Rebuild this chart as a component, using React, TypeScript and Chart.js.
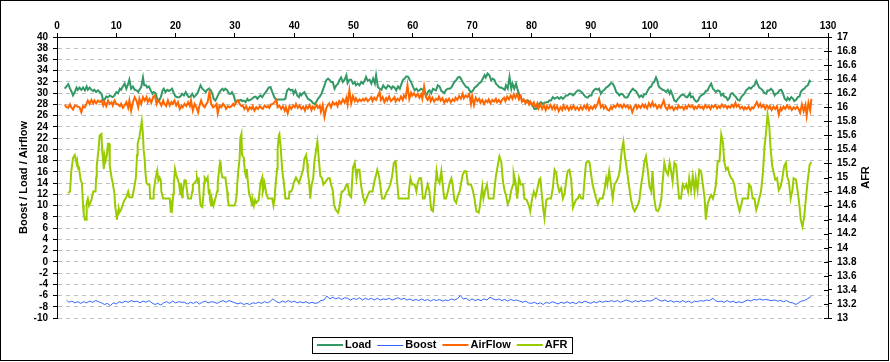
import React, { useEffect, useRef } from 'react';
import { Chart, registerables } from 'chart.js';

Chart.register(...registerables);

const seriesNames = ['Load', 'Boost', 'AirFlow', 'AFR'];
const seriesColors = ['#339966', '#3366FF', '#FF6600', '#99CC00'];
const leftTitle = 'Boost / Load / Airflow';
const rightTitle = 'AFR';

const xTickValues = [0, 10, 20, 30, 40, 50, 60, 70, 80, 90, 100, 110, 120, 130];
const leftTickValues = [-10, -8, -6, -4, -2, 0, 2, 4, 6, 8, 10, 12, 14, 16, 18, 20, 22, 24, 26, 28, 30, 32, 34, 36, 38, 40];
const afrTickValues = [13, 13.2, 13.4, 13.6, 13.8, 14, 14.2, 14.4, 14.6, 14.8, 15, 15.2, 15.4, 15.6, 15.8, 16, 16.2, 16.4, 16.6, 16.8, 17];

const loadTime = [1.3,1.6,1.9,2.2,2.4,2.7,3.0,3.3,3.5,3.8,4.1,4.4,4.7,5.0,5.2,5.5,5.8,6.1,6.3,6.6,6.9,7.2,7.5,7.8,8.0,8.3,8.6,8.9,9.2,9.4,9.7,10.0,10.3,10.6,10.8,11.1,11.4,11.7,12.0,12.2,12.5,12.8,13.1,13.4,13.7,13.9,14.2,14.5,14.7,15.0,15.2,15.5,15.8,16.1,16.3,16.6,16.9,17.2,17.5,17.8,18.0,18.3,18.6,18.9,19.2,19.4,19.7,20.0,20.3,20.6,20.8,21.1,21.4,21.7,22.0,22.2,22.5,22.8,23.1,23.4,23.7,23.9,24.2,24.5,24.8,25.1,25.3,25.6,25.9,26.2,26.4,26.7,27.0,27.3,27.6,27.9,28.1,28.4,28.7,29.0,29.3,29.5,29.8,30.1,30.4,30.7,31.0,31.2,31.5,31.8,32.1,32.3,32.6,32.9,33.2,33.5,33.8,34.0,34.3,34.6,34.9,35.2,35.4,35.7,36.0,36.3,36.6,36.8,37.1,37.4,37.7,38.0,38.3,38.5,38.8,39.1,39.4,39.7,39.9,40.2,40.5,40.8,
41.0,41.2,41.5,41.7,42.0,42.3,42.6,42.9,43.1,43.4,43.7,44.0,44.3,44.6,44.8,45.1,45.4,45.7,46.0,46.2,46.5,46.8,47.1,47.4,47.6,47.9,48.2,48.5,48.8,49.0,49.3,49.6,49.9,50.2,50.4,50.7,51.0,51.3,51.6,51.9,52.1,52.4,52.7,53.0,53.3,53.6,53.8,54.1,54.4,54.7,55.0,55.2,55.5,55.8,56.1,56.4,56.6,56.9,57.2,57.5,57.8,58.1,58.3,58.6,58.9,59.2,59.5,59.7,60.0,60.3,60.6,60.9,61.1,61.4,61.7,62.0,62.3,62.5,62.8,63.1,63.4,63.7,63.9,64.2,64.5,64.8,65.1,65.3,65.6,65.9,66.2,66.5,66.7,67.0,67.3,67.6,67.9,68.1,68.4,68.7,69.0,69.3,69.5,69.8,70.1,70.4,70.7,70.9,71.2,71.5,71.8,72.1,72.3,72.6,72.9,73.2,73.5,73.8,74.0,74.3,74.6,74.9,75.2,75.5,75.7,76.0,76.3,76.6,76.8,77.1,77.4,77.7,78.0,78.3,78.5,78.8,79.1,79.4,79.6,80.0,80.2,80.5,80.8,81.1,81.3,81.6,81.9,82.2,82.5,82.8,83.0,83.3,83.6,83.9,84.2,84.4,84.7,85.0,85.3,85.6,85.8,86.1,86.4,86.7,87.0,87.3,87.5,87.8,88.1,
88.4,88.7,88.9,89.2,89.5,89.8,90.1,90.3,90.6,90.9,91.2,91.4,91.7,92.0,92.3,92.6,92.9,93.1,93.4,93.7,94.0,94.3,94.6,94.8,95.1,95.4,95.7,96.0,96.2,96.5,96.8,97.1,97.4,97.6,97.9,98.2,98.5,98.8,99.0,99.3,99.6,99.9,100.2,100.4,100.7,101.0,101.2,101.4,101.6,101.9,102.1,102.4,102.7,103.0,103.3,103.5,103.8,104.1,104.4,104.7,104.9,105.2,105.5,105.8,106.1,106.3,106.7,106.9,107.2,107.5,107.8,108.1,108.3,108.6,108.9,109.2,109.4,109.7,110.0,110.3,110.6,110.8,111.1,111.4,111.7,112.0,112.3,112.5,112.8,113.1,113.4,113.6,113.9,114.2,114.5,114.8,115.1,115.3,115.6,115.9,116.2,116.5,116.7,117.0,117.3,117.6,117.9,118.1,118.4,118.7,119.0,119.3,119.6,119.8,120.1,120.4,120.7,121.0,121.2,121.5,121.8,122.1,122.4,122.7,123.0,123.2,123.5,123.8,124.1,124.3,124.6,124.9,125.2,125.4,125.7,126.0,126.3,126.6,126.9,127.1];
const loadValues = [30.8,31.2,31.6,30.8,30.4,29.6,30.2,31.0,30.6,31.0,30.6,31.0,30.5,31.2,30.6,31.0,30.6,30.4,30.6,30.2,30.5,30.2,29.9,28.7,28.8,29.4,29.3,29.6,29.4,29.3,29.6,30.2,30.0,30.8,30.6,31.2,31.7,30.8,31.7,32.4,30.8,31.2,30.6,30.5,30.2,30.6,31.1,32.8,31.4,31.4,31.0,31.2,30.5,29.9,30.2,30.0,29.0,28.7,29.3,30.5,30.8,30.2,30.6,30.4,30.6,30.8,30.0,29.4,29.3,29.3,29.4,29.9,29.6,30.2,29.6,29.3,29.4,29.9,29.3,29.6,30.0,30.6,31.4,30.8,30.5,30.2,30.6,30.8,30.6,29.9,29.0,28.7,29.3,30.0,30.5,30.8,30.5,30.8,30.5,29.9,29.9,30.2,29.6,28.4,28.7,28.7,28.8,28.6,28.7,28.4,29.0,28.7,28.8,29.0,29.3,29.4,29.0,29.3,29.6,29.3,29.8,30.2,30.5,31.0,31.1,30.2,29.4,29.0,28.8,28.9,28.9,28.9,28.9,29.0,30.5,30.8,30.5,30.6,29.9,30.5,29.6,29.3,
29.9,29.6,30.0,30.2,29.6,29.0,28.8,28.6,28.3,28.1,28.4,29.0,29.4,29.9,30.5,31.4,32.3,32.6,32.3,32.0,32.0,30.8,31.4,31.7,32.3,32.8,32.0,32.4,33.2,31.8,32.4,32.4,31.7,32.0,31.4,31.7,31.4,32.0,31.7,32.3,32.9,32.2,32.4,31.7,32.6,31.7,33.2,31.1,30.8,30.6,31.4,31.1,30.8,31.4,31.2,30.8,31.2,31.0,30.5,31.2,30.8,31.7,32.3,32.6,33.0,32.9,32.3,32.0,31.2,30.5,30.8,30.4,30.5,30.8,30.6,29.9,29.6,30.2,30.5,30.0,30.8,30.6,30.5,31.4,31.2,30.4,30.2,30.0,30.6,30.8,30.8,31.0,31.4,32.0,32.3,32.8,32.9,32.6,32.0,31.5,31.1,31.0,30.6,30.2,30.4,31.0,31.2,31.4,31.8,32.0,32.6,33.2,32.8,33.5,33.2,32.3,32.6,32.3,31.7,31.4,31.0,31.0,30.8,30.6,31.4,30.8,32.9,30.8,31.7,30.8,31.7,30.5,29.6,29.0,28.7,28.7,28.6,28.7,28.4,28.1,27.8,27.2,27.2,27.5,28.1,28.4,28.1,28.3,28.4,28.4,28.7,28.7,29.3,29.0,29.2,29.3,29.0,29.3,29.0,29.3,29.6,29.6,29.9,29.9,29.6,29.9,30.2,30.5,30.5,
30.2,29.9,29.6,29.3,29.2,29.6,29.6,30.2,30.6,30.8,30.6,30.8,29.9,30.4,30.6,31.0,31.2,31.4,31.8,31.7,31.1,30.2,29.9,29.6,29.9,29.8,29.3,29.2,29.3,29.9,30.4,30.8,30.5,30.4,29.9,29.3,29.6,29.3,29.8,29.8,30.5,31.0,31.2,31.7,32.0,32.8,32.3,31.4,31.0,30.8,30.6,30.5,30.2,30.6,29.9,30.4,29.6,28.7,28.5,29.0,29.2,29.6,29.8,29.6,29.3,29.3,30.0,29.3,29.4,28.8,28.5,28.7,29.2,29.6,29.8,30.0,30.4,30.5,31.2,31.7,30.8,30.6,30.2,30.5,30.4,29.6,29.9,29.4,29.3,28.8,29.2,29.9,30.0,29.6,29.3,28.8,28.7,29.2,29.6,29.9,30.5,30.8,31.0,30.8,31.2,31.4,32.2,31.7,31.0,30.8,30.5,30.0,29.9,30.5,30.5,30.8,30.4,29.6,29.9,30.0,30.5,30.6,30.0,29.0,28.7,29.2,28.8,29.3,29.0,28.6,28.8,29.3,29.4,30.2,30.6,30.8,31.2,31.4,32.2,32.0];

const airflowTime = [1.3,1.6,1.9,2.2,2.4,2.7,3.0,3.3,3.8,4.1,4.4,4.7,5.0,5.2,5.5,5.8,6.1,6.3,6.6,6.9,7.2,7.5,7.8,8.0,8.3,8.6,8.9,9.2,9.4,9.7,10.0,10.3,10.6,10.8,11.1,11.4,11.7,12.0,12.2,12.5,12.8,13.1,13.4,13.7,13.9,14.2,14.5,14.8,15.1,15.3,15.6,15.9,16.2,16.5,16.8,17.0,17.3,17.6,17.9,18.1,18.4,18.7,19.0,19.3,19.5,19.8,20.1,20.4,20.7,21.0,21.2,21.5,21.8,22.1,22.4,22.6,22.9,23.2,23.5,23.8,24.0,24.3,24.6,24.9,25.2,25.4,25.7,26.0,26.3,26.6,26.9,27.1,27.4,27.7,28.0,28.3,28.5,28.8,29.1,29.4,29.7,29.9,30.2,30.5,30.8,31.1,31.3,31.6,31.9,32.2,32.5,32.8,33.0,33.3,33.6,33.9,34.2,34.4,34.7,35.0,35.3,35.6,35.8,36.1,36.4,36.7,37.0,37.2,37.5,37.8,38.1,38.4,38.6,38.9,39.2,39.5,39.8,40.1,40.3,40.6,
40.9,41.2,41.5,41.8,42.0,42.3,42.6,42.9,43.1,43.4,43.7,44.0,44.3,44.5,44.8,45.1,45.4,45.6,45.9,46.2,46.5,46.8,47.1,47.3,47.6,47.9,48.2,48.5,48.8,49.0,49.3,49.6,49.9,50.2,50.4,50.7,51.0,51.3,51.6,51.8,52.1,52.4,52.7,53.0,53.2,53.5,53.8,54.1,54.4,54.6,54.9,55.2,55.5,55.7,56.0,56.3,56.6,56.9,57.1,57.4,57.7,58.0,58.3,58.5,58.8,59.1,59.4,59.7,59.9,60.2,60.5,60.8,61.1,61.4,61.6,61.9,62.2,62.5,62.8,63.0,63.3,63.6,63.9,64.2,64.4,64.7,65.0,65.3,65.6,65.8,66.1,66.4,66.7,67.0,67.2,67.5,67.8,68.1,68.4,68.6,68.9,69.2,69.5,69.8,70.0,70.3,70.6,70.9,71.2,71.4,71.7,72.0,72.3,72.6,72.8,73.1,73.4,73.7,74.0,74.2,74.5,74.8,75.1,75.4,75.6,75.9,76.2,76.5,76.8,77.0,77.3,77.6,77.9,78.2,78.4,78.7,79.0,79.3,79.6,79.8,80.1,80.4,80.7,81.0,81.2,81.5,81.8,82.1,82.4,82.6,82.9,83.2,83.5,83.8,84.0,84.3,84.6,84.9,85.2,85.4,85.7,86.0,86.3,86.6,86.8,87.1,87.4,87.7,88.0,
88.3,88.6,88.9,89.2,89.4,89.7,90.0,90.3,90.6,90.8,91.1,91.4,91.7,92.0,92.2,92.5,92.8,93.1,93.4,93.6,93.9,94.2,94.5,94.8,95.0,95.3,95.6,95.9,96.2,96.4,96.7,97.0,97.3,97.6,97.8,98.1,98.4,98.7,99.0,99.2,99.5,99.8,100.1,100.4,100.6,100.9,101.2,101.5,101.8,102.0,102.3,102.6,102.9,103.2,103.4,103.7,104.0,104.3,104.6,104.8,105.1,105.4,105.7,106.0,106.2,106.5,106.8,107.1,107.4,107.6,107.9,108.2,108.5,108.8,109.0,109.3,109.6,109.9,110.2,110.4,110.7,111.0,111.3,111.6,111.8,112.1,112.4,112.7,113.0,113.2,113.5,113.8,114.1,114.4,114.6,114.9,115.2,115.5,115.8,116.0,116.3,116.6,116.9,117.2,117.4,117.7,118.0,118.3,118.6,118.8,119.1,119.4,119.7,120.0,120.2,120.5,120.8,121.1,121.4,121.7,122.0,122.2,122.5,122.8,123.1,123.4,123.6,123.9,124.2,124.5,124.8,125.0,125.3,125.6,125.9,126.2,126.4,126.7,127.0,127.2];
const airflowValues = [28.0,27.5,27.4,28.0,27.5,27.1,27.8,27.7,27.5,26.6,27.7,27.5,28.2,28.7,28.1,28.8,28.2,28.7,28.2,28.7,28.4,28.7,27.8,28.4,27.7,28.7,28.1,28.4,27.8,28.7,28.1,28.0,27.7,28.1,27.4,27.8,28.4,27.4,28.7,26.9,28.4,29.3,28.7,27.5,29.0,28.1,29.3,28.7,29.3,28.4,29.0,28.3,29.3,29.6,28.1,28.7,28.4,27.8,28.7,28.1,27.7,28.7,27.8,28.4,28.1,28.7,27.8,28.4,27.2,27.8,27.5,28.1,27.7,28.4,27.7,28.7,26.9,28.1,27.5,26.6,27.7,28.7,27.8,27.5,28.1,28.4,30.2,28.1,27.5,27.7,28.1,26.4,27.8,27.5,28.1,27.7,27.2,27.7,27.5,27.7,28.1,27.8,28.4,28.7,28.1,27.7,27.8,27.2,27.7,26.9,27.5,27.2,27.7,26.9,27.5,27.2,27.7,27.4,27.2,27.8,27.5,27.7,27.4,28.0,28.1,28.4,28.8,27.5,27.8,27.2,27.7,26.9,27.5,26.4,27.7,27.2,27.8,27.5,28.1,27.4,
27.8,27.2,27.6,26.9,27.7,27.3,27.9,27.0,27.6,27.2,28.0,27.4,27.8,26.7,27.9,25.8,27.3,27.8,28.2,27.5,28.4,28.0,28.3,27.7,28.6,28.2,28.9,28.3,29.2,28.0,30.5,28.2,29.5,28.6,29.1,28.5,28.9,28.6,29.0,28.7,29.1,28.6,28.9,29.3,28.6,29.2,28.8,29.5,30.2,28.8,29.3,28.4,29.1,28.7,29.4,28.6,28.9,29.3,28.5,29.0,28.7,29.4,28.8,29.6,29.2,31.4,29.0,30.1,29.6,30.0,29.4,29.9,29.2,29.8,29.0,31.2,29.3,28.8,29.5,28.6,29.2,28.5,29.0,28.8,29.4,28.7,29.1,28.3,28.9,28.5,29.0,28.4,28.9,28.6,29.2,28.8,29.5,29.0,29.9,29.1,29.6,29.3,29.9,28.1,29.5,27.9,29.2,28.6,29.0,28.3,28.8,28.1,28.7,28.4,28.9,28.2,28.8,28.5,29.0,28.4,28.8,28.3,28.9,29.2,28.6,29.4,28.9,29.6,29.0,29.8,29.2,29.9,28.9,29.5,28.5,28.9,28.2,28.7,28.0,28.5,27.9,28.4,27.5,28.2,27.3,28.0,27.2,27.9,27.0,27.7,27.3,27.9,27.2,27.8,27.1,27.7,26.8,27.5,27.0,27.8,27.2,27.7,27.0,27.6,27.2,27.8,27.1,27.5,27.0,
27.6,27.1,27.8,27.3,27.9,27.0,27.6,27.2,27.8,27.4,28.0,29.0,27.5,27.9,27.3,27.7,27.1,26.9,27.6,27.2,27.8,27.5,28.1,27.6,27.9,27.4,28.0,27.5,27.8,27.3,27.7,26.6,27.5,27.9,27.3,27.8,27.4,28.0,27.5,27.9,27.3,28.2,27.6,28.4,27.7,28.0,27.3,27.8,27.4,27.9,28.7,27.5,27.1,27.8,27.3,27.6,27.0,27.5,27.2,27.8,27.4,27.6,27.1,27.7,27.3,27.9,27.5,27.8,27.2,27.6,27.3,27.8,27.4,27.6,27.2,27.9,27.4,27.7,27.2,27.8,27.5,27.9,27.3,27.7,27.4,28.0,27.5,27.8,27.3,27.7,27.4,27.9,27.5,28.3,27.6,27.9,27.3,27.6,27.1,27.5,27.2,27.6,27.0,27.5,27.3,27.8,28.4,27.6,28.1,27.5,27.9,27.2,27.8,27.3,27.7,27.0,27.6,27.2,27.7,26.2,27.4,27.0,27.6,27.2,27.8,27.3,27.6,27.0,27.5,27.2,27.6,27.3,26.5,28.0,26.8,27.9,26.0,28.3,27.0,29.0];

const boostTime = [1.6,2.0,2.5,3.0,3.5,4.0,4.5,5.0,5.5,6.0,6.5,7.0,7.5,8.0,8.5,9.0,9.5,10.0,10.5,11.0,11.5,12.0,12.5,13.0,13.5,14.0,14.5,15.0,15.5,16.0,16.5,17.0,17.5,18.0,18.5,19.0,19.5,20.0,20.5,21.0,21.5,22.0,22.5,23.0,23.5,24.0,24.5,25.0,25.5,26.0,26.5,27.0,27.5,28.0,28.5,29.0,29.5,30.0,30.5,31.0,31.5,32.0,32.5,33.0,33.5,34.0,34.5,35.0,35.5,36.0,36.4,37.0,37.5,38.0,38.5,39.0,39.5,40.0,40.5,41.0,41.5,42.0,42.5,43.0,43.5,44.0,44.5,45.0,45.5,46.0,46.5,47.0,47.5,48.0,48.5,49.0,49.5,50.0,50.5,51.0,51.5,52.0,52.5,53.0,53.5,54.0,54.5,55.0,55.5,56.0,56.5,57.0,57.5,58.0,58.5,59.0,59.5,60.0,60.5,61.0,61.5,62.0,62.5,63.0,63.5,64.0,64.5,65.0,65.5,66.0,66.5,67.0,67.5,68.0,68.5,69.0,69.5,70.0,70.5,71.0,71.5,72.0,72.5,73.0,73.5,74.0,74.5,75.0,75.5,76.0,76.5,77.0,77.5,78.0,78.5,79.0,79.5,80.0,80.5,81.0,81.5,82.0,82.5,83.0,83.5,84.0,84.5,85.0,85.5,86.0,86.5,87.0,87.5,88.0,88.5,89.0,89.5,90.0,90.5,91.0,91.5,92.0,92.5,93.0,93.5,94.0,94.5,95.0,95.5,96.0,96.5,97.0,97.5,98.0,98.5,99.0,99.5,100.0,100.5,101.0,101.5,102.0,102.5,103.0,103.5,104.0,104.5,105.0,105.5,106.0,106.5,107.0,107.5,108.0,108.5,109.0,109.5,110.0,110.6,111.0,111.5,112.0,112.5,113.0,113.5,114.0,114.5,115.0,115.5,116.0,116.5,117.0,117.5,118.0,118.5,119.0,119.5,120.0,120.5,121.0,121.5,122.0,122.5,123.0,123.5,124.0,124.6,125.0,125.5,126.0,126.5,127.0,127.2];
const boostValues = [-6.8,-7.2,-7.0,-7.3,-7.1,-7.4,-7.1,-7.3,-7.0,-7.2,-6.9,-7.1,-7.3,-7.6,-7.4,-7.8,-7.3,-7.5,-7.1,-7.3,-7.0,-7.2,-6.9,-7.1,-7.0,-7.3,-7.0,-7.2,-6.9,-7.3,-7.6,-7.4,-7.7,-7.3,-7.1,-7.4,-7.0,-7.3,-7.1,-7.2,-7.2,-7.5,-7.2,-7.4,-7.1,-7.5,-7.2,-7.0,-7.3,-7.1,-7.2,-7.4,-7.1,-6.9,-7.2,-6.9,-7.1,-7.3,-7.5,-7.3,-7.6,-7.4,-7.6,-7.3,-7.4,-7.2,-7.4,-7.1,-7.3,-7.0,-6.6,-7.1,-7.3,-7.0,-7.2,-6.9,-7.2,-7.0,-7.3,-7.1,-7.3,-7.1,-7.4,-7.2,-7.4,-7.3,-6.9,-6.8,-6.1,-6.6,-6.3,-6.6,-6.4,-6.7,-6.4,-6.5,-6.8,-6.5,-6.7,-6.4,-6.8,-6.5,-6.7,-6.5,-6.8,-6.5,-6.8,-6.6,-6.7,-6.5,-6.8,-6.6,-6.4,-6.7,-6.5,-6.8,-6.6,-6.9,-6.7,-6.9,-6.6,-6.9,-6.7,-7.0,-6.7,-6.9,-6.7,-7.0,-6.8,-6.9,-6.6,-6.8,-6.6,-6.0,-6.6,-6.5,-6.9,-6.6,-6.9,-6.7,-6.9,-6.6,-6.8,-6.3,-6.6,-6.8,-6.6,-6.9,-6.7,-7.0,-6.7,-6.9,-6.8,-7.0,-7.2,-7.0,-7.3,-7.4,-7.2,-7.5,-7.3,-7.6,-7.2,-7.4,-7.1,-7.3,-7.5,-7.2,-7.4,-7.1,-7.4,-7.2,-7.5,-7.1,-7.3,-7.0,-7.2,-7.4,-7.1,-7.3,-7.0,-7.2,-7.0,-7.1,-6.9,-7.1,-6.9,-7.2,-7.0,-6.8,-7.0,-7.2,-6.9,-7.1,-6.9,-7.1,-6.9,-7.0,-6.8,-6.4,-6.8,-7.0,-6.8,-7.1,-6.9,-7.2,-7.0,-7.2,-6.9,-7.2,-7.0,-7.3,-7.0,-7.1,-6.9,-7.0,-6.8,-6.9,-6.5,-6.9,-7.1,-7.0,-7.2,-6.9,-7.2,-7.0,-7.3,-7.1,-7.3,-7.0,-6.8,-7.0,-6.7,-6.8,-6.6,-6.8,-6.7,-6.8,-6.9,-6.8,-7.0,-6.9,-7.1,-6.9,-7.2,-7.3,-7.6,-7.3,-7.0,-6.9,-6.6,-6.3,-6.1];

const afrTime = [1.85,2.2,2.4,2.7,3.0,3.3,3.4,3.6,3.7,3.8,4.0,4.2,4.3,4.4,4.5,4.7,4.9,5.0,5.2,5.4,5.6,5.8,6.1,6.5,6.6,6.7,7.0,7.2,7.5,7.6,7.9,8.0,8.2,8.4,8.6,8.8,8.9,9.2,9.4,9.7,9.8,10.0,10.1,10.4,10.5,10.8,11.1,11.4,11.7,12.0,12.2,12.7,12.9,13.3,13.5,13.6,13.9,14.3,14.5,14.6,14.8,14.9,15.1,15.3,15.6,15.7,16.2,16.3,16.6,16.9,17.1,17.3,17.5,17.6,17.9,19.0,19.2,19.3,19.4,19.6,19.7,19.9,20.1,20.4,20.6,20.8,20.9,21.1,21.2,21.5,21.7,22.0,22.1,22.6,22.8,22.9,23.2,23.5,23.6,23.8,23.9,24.0,24.2,24.5,24.7,24.8,24.9,25.2,25.4,25.6,25.7,25.8,26.0,26.1,26.4,26.7,27.0,27.1,27.3,27.5,27.6,27.7,27.9,28.4,28.5,28.7,28.8,29.0,29.9,30.1,30.3,30.4,30.6,30.8,30.9,31.1,31.2,31.5,31.6,31.7,31.9,32.0,32.2,32.4,32.6,32.9,33.0,33.2,33.4,33.6,34.0,34.1,34.3,34.6,34.7,35.0,35.3,35.6,36.3,36.5,36.7,36.8,37.1,37.2,37.4,37.5,37.7,37.8,38.0,38.2,38.4,38.5,39.1,39.2,39.5,39.7,39.9,40.3,40.8,
41.5,41.7,42.0,42.2,42.3,42.5,42.7,42.9,43.2,43.4,43.7,43.9,44.2,44.4,44.7,44.9,45.3,45.7,46.0,46.2,46.5,46.7,47.0,47.4,47.6,48.0,48.2,48.5,48.8,49.0,49.3,49.6,49.9,50.2,50.5,50.7,51.0,51.3,51.6,51.9,52.1,52.4,52.7,53.2,53.5,53.8,54.0,54.3,54.5,54.8,55.2,55.5,55.8,56.2,56.5,56.8,57.1,57.3,57.6,59.2,59.3,59.6,59.9,60.3,60.6,60.8,61.1,61.4,61.7,62.0,62.2,62.5,62.8,63.1,63.4,63.7,64.0,64.2,64.5,64.8,65.0,65.3,65.6,65.9,66.2,66.5,66.7,67.0,67.3,67.6,67.9,68.1,68.4,68.7,69.0,69.3,69.8,70.1,70.4,70.7,71.1,71.3,71.7,71.9,72.2,72.5,72.8,73.6,73.8,74.0,74.3,74.6,74.9,75.2,75.5,75.7,76.0,76.3,76.6,76.9,77.0,77.3,77.6,77.9,78.2,78.6,78.8,79.2,79.6,79.8,80.1,80.4,80.7,80.9,81.3,81.5,81.7,82.0,82.2,82.5,82.8,83.3,83.6,83.9,84.2,84.4,84.7,85.0,85.3,85.6,85.8,86.1,86.4,86.7,87.0,87.3,87.5,87.8,88.1,88.4,88.7,89.0,89.2,89.6,89.8,90.1,90.3,90.6,90.9,91.2,91.5,92.0,92.3,92.6,92.8,93.1,93.4,93.7,94.0,94.3,94.7,94.9,95.2,95.5,95.8,95.9,96.2,96.5,96.8,97.1,97.4,97.7,98.0,98.2,98.5,98.8,99.0,99.3,99.6,99.9,100.2,100.4,100.7,101.0,101.3,101.6,101.9,102.1,102.4,102.7,103.0,103.3,103.6,103.8,104.1,104.4,104.7,104.9,105.2,105.5,105.8,106.1,106.4,106.6,106.9,107.2,107.5,107.7,108.0,108.3,108.6,108.9,109.2,109.4,109.7,110.0,110.3,110.6,110.9,111.1,111.4,111.7,112.0,112.3,112.5,112.8,113.1,113.4,113.7,113.9,114.2,114.5,114.8,115.1,115.4,115.6,116.5,116.7,117.0,117.3,117.6,117.9,118.2,118.4,118.7,119.0,119.3,119.6,119.8,120.1,120.3,120.6,120.8,121.1,121.4,121.7,122.0,122.3,122.6,122.9,123.1,123.4,123.7,124.0,124.2,124.6,124.9,125.2,125.4,125.7,126.0,126.3,126.6,126.9,127.2];
const afrValues = [14.78,14.80,15.08,15.28,15.32,15.20,15.24,15.12,15.16,15.08,14.96,14.92,14.76,14.60,14.48,14.40,14.40,14.64,14.70,14.60,14.64,14.68,14.80,14.80,15.00,15.16,15.40,15.60,15.62,15.40,15.12,15.32,15.24,15.32,15.48,15.48,15.16,15.00,14.92,14.76,14.60,14.48,14.40,14.56,14.50,14.54,14.62,14.68,14.72,14.80,14.72,14.72,14.80,15.00,15.32,15.48,15.58,15.80,15.60,15.40,15.24,15.08,14.92,14.90,14.90,14.70,14.70,14.80,14.98,15.10,14.96,15.00,14.96,14.80,14.70,14.70,14.50,14.60,14.56,14.76,14.92,15.12,15.04,14.96,14.90,14.76,14.92,14.72,14.80,14.96,14.96,14.76,14.70,14.70,14.80,14.90,14.92,14.96,15.00,14.92,15.00,14.80,14.60,14.58,14.76,14.92,15.00,14.96,15.00,14.76,14.84,14.68,14.60,14.70,14.60,14.70,14.80,14.92,15.08,15.22,15.20,15.08,15.00,15.00,14.92,14.80,14.68,14.60,14.60,14.64,14.76,14.92,15.12,15.28,15.56,15.62,15.32,15.28,15.16,15.08,15.00,15.12,14.92,14.76,14.72,14.60,14.68,14.60,14.68,14.64,14.68,14.76,14.92,15.00,14.80,14.92,14.76,14.70,14.70,14.60,14.70,14.84,15.12,15.40,15.60,15.62,15.44,15.32,15.08,14.96,14.80,14.70,14.70,14.80,14.80,14.84,14.92,15.00,14.92,
15.11,15.26,15.32,15.20,15.06,14.94,14.70,14.88,14.99,15.23,15.40,15.51,15.21,15.02,14.99,14.90,14.94,14.99,14.99,14.90,14.82,14.62,14.54,14.50,14.57,14.80,14.80,14.83,14.90,14.90,14.75,14.72,15.14,15.21,14.99,15.11,15.11,14.87,14.73,14.64,14.68,14.75,14.80,14.80,14.94,15.04,15.11,15.02,14.90,14.70,14.70,14.78,14.82,14.90,15.02,15.21,15.23,14.99,14.70,14.70,14.78,14.99,14.90,14.90,14.80,14.92,14.99,14.99,14.70,14.70,14.80,14.90,14.80,14.54,14.52,14.80,15.09,14.97,14.92,15.09,14.92,14.70,14.70,14.80,14.92,14.99,14.90,14.68,14.64,14.75,14.80,14.90,15.04,15.09,15.09,14.90,14.90,14.82,14.70,14.52,14.50,14.59,14.87,14.70,14.82,14.90,14.70,14.70,14.87,15.02,15.16,15.30,15.23,14.94,14.80,14.75,14.62,14.68,14.82,14.90,15.06,14.94,14.70,14.99,14.90,14.90,14.70,14.68,14.59,14.52,14.70,14.80,14.73,14.80,14.97,14.99,14.80,14.54,14.42,14.68,14.70,14.70,14.85,15.11,15.06,14.90,14.80,14.85,14.70,14.78,14.92,15.09,15.11,14.97,14.57,14.64,14.68,14.70,14.75,14.70,14.70,15.02,15.21,15.23,15.21,15.02,14.90,14.80,14.70,14.62,14.70,14.70,14.82,14.99,14.90,15.09,14.90,14.70,14.90,14.94,15.02,15.11,15.37,15.51,15.26,15.23,15.04,14.85,14.68,14.57,14.52,14.57,14.62,14.68,14.90,15.06,15.21,15.30,15.11,14.87,14.80,15.09,14.70,14.54,14.52,14.57,14.70,14.92,15.21,15.09,15.04,15.21,15.06,14.94,15.21,15.18,14.87,14.70,14.70,14.90,14.85,14.90,14.80,14.99,14.82,15.02,14.80,14.99,14.82,15.11,15.09,14.90,14.70,14.40,14.62,14.70,14.75,14.70,14.80,14.90,15.23,15.23,15.61,15.49,15.23,15.11,15.14,15.04,14.99,14.97,14.90,14.73,14.62,14.52,14.62,14.70,14.70,14.90,14.87,14.70,14.70,14.54,14.62,14.70,14.80,15.04,15.44,15.68,15.90,15.73,15.44,15.16,15.09,14.97,14.99,14.82,14.87,14.99,15.16,15.21,15.02,14.94,14.70,14.82,14.99,14.97,14.80,14.59,14.40,14.30,14.45,14.73,14.97,15.18,15.22];

const FONT = '"Liberation Sans", Arial, Helvetica, sans-serif';

function pairs(xs: number[], ys: number[]) {
  return xs.map((x, i) => ({ x, y: ys[i] }));
}

const overlayPlugin = {
  id: 'overlay',
  afterDraw(chart: any) {
    const ctx = chart.ctx as CanvasRenderingContext2D;
    const { top, bottom, right } = chart.chartArea;
    ctx.save();
    // inner half of right-axis tick marks
    const y1 = chart.scales.y1;
    ctx.strokeStyle = '#000';
    ctx.lineWidth = 1;
    y1.ticks.forEach((t: any) => {
      const py = Math.round(y1.getPixelForValue(t.value)) + 0.5;
      ctx.beginPath();
      ctx.moveTo(right - 4, py);
      ctx.lineTo(right, py);
      ctx.stroke();
    });
    // axis titles
    ctx.fillStyle = '#000';
    ctx.font = `bold 11px ${FONT}`;
    ctx.textAlign = 'center';
    ctx.textBaseline = 'middle';
    const cy = (top + bottom) / 2;
    ctx.save();
    ctx.translate(24, cy);
    ctx.rotate(-Math.PI / 2);
    ctx.fillText(leftTitle, 0, 0);
    ctx.restore();
    ctx.save();
    ctx.translate(866, cy);
    ctx.rotate(-Math.PI / 2);
    ctx.fillText(rightTitle, 0, 0);
    ctx.restore();
    // legend
    ctx.strokeStyle = '#000';
    ctx.lineWidth = 1;
    ctx.strokeRect(312.5, 337.5, 260, 16);
    ctx.font = `bold 11px ${FONT}`;
    ctx.textAlign = 'left';
    ctx.textBaseline = 'middle';
    let x = 317;
    const ly = 345;
    const widths = [2, 1, 2, 2];
    seriesNames.forEach((name, i) => {
      ctx.strokeStyle = seriesColors[i];
      ctx.lineWidth = widths[i];
      ctx.beginPath();
      const yy = widths[i] === 2 ? ly : ly + 0.5;
      ctx.moveTo(x, yy);
      ctx.lineTo(x + 26, yy);
      ctx.stroke();
      ctx.fillStyle = '#000';
      ctx.fillText(name, x + 28, ly);
      x += 28 + ctx.measureText(name).width + 6;
    });
    // outer frame
    ctx.strokeStyle = '#000';
    ctx.lineWidth = 1;
    ctx.strokeRect(0.5, 0.5, 888, 360);
    ctx.restore();
  },
};

export default function App() {
  const ref = useRef<HTMLCanvasElement | null>(null);
  useEffect(() => {
    if (!ref.current) return;
    const tickFont = { family: FONT, size: 10, weight: 'bold' as const };
    const chart = new Chart(ref.current, {
      type: 'line',
      data: {
        datasets: [
          { label: seriesNames[0], data: pairs(loadTime, loadValues), borderColor: seriesColors[0], borderWidth: 2, yAxisID: 'y', order: 4 },
          { label: seriesNames[1], data: pairs(boostTime, boostValues), borderColor: seriesColors[1], borderWidth: 1, yAxisID: 'y', order: 3 },
          { label: seriesNames[2], data: pairs(airflowTime, airflowValues), borderColor: seriesColors[2], borderWidth: 2, yAxisID: 'y', order: 2 },
          { label: seriesNames[3], data: pairs(afrTime, afrValues), borderColor: seriesColors[3], borderWidth: 2, yAxisID: 'y1', order: 1 },
        ] as any,
      },
      options: {
        animation: false,
        responsive: false,
        devicePixelRatio: 1,
        events: [],
        layout: { padding: { left: 0, right: 0, top: 0, bottom: 44 } },
        elements: { point: { radius: 0 }, line: { tension: 0, fill: false } },
        plugins: { legend: { display: false }, tooltip: { enabled: false }, title: { display: false } },
        scales: {
          x: {
            type: 'linear',
            position: 'top',
            min: 0,
            max: 130,
            afterBuildTicks: (s: any) => { s.ticks = xTickValues.map((v) => ({ value: v })); },
            afterFit: (s: any) => { s.height = 37; },
            ticks: { font: tickFont, color: '#000', padding: 1, autoSkip: false, maxRotation: 0, callback: (v: any) => String(v) },
            grid: { drawOnChartArea: false, drawTicks: true, tickLength: 4, color: '#000' },
            border: { color: '#000', width: 1 },
          },
          y: {
            type: 'linear',
            position: 'left',
            min: -10,
            max: 40,
            afterBuildTicks: (s: any) => { s.ticks = leftTickValues.map((v) => ({ value: v })); },
            afterFit: (s: any) => { s.width = 57; },
            ticks: { font: tickFont, color: '#000', padding: 5, autoSkip: false, callback: (v: any) => String(v) },
            grid: {
              color: (c: any) => (c.tick && c.tick.value === 40 ? 'rgba(0,0,0,0)' : '#c0c0c0'),
              tickColor: '#000',
              tickLength: 4,
              tickBorderDash: [],
            },
            border: { color: '#000', width: 1, dash: [4, 4] },
          },
          y1: {
            type: 'linear',
            position: 'right',
            min: 13,
            max: 17,
            afterBuildTicks: (s: any) => { s.ticks = afrTickValues.map((v) => ({ value: v })); },
            afterFit: (s: any) => { s.width = 62; },
            ticks: { font: tickFont, color: '#000', padding: 5, autoSkip: false, callback: (v: any) => String(+Number(v).toFixed(1)) },
            grid: { drawOnChartArea: false, drawTicks: true, tickLength: 4, color: '#000' },
            border: { color: '#000', width: 1 },
          },
        },
      } as any,
      plugins: [overlayPlugin],
    });
    return () => chart.destroy();
  }, []);
  return (
    <div style={{ position: 'absolute', left: 0, top: 0, width: 890, height: 362, background: '#fff' }}>
      <canvas ref={ref} width={890} height={362} style={{ display: 'block', width: 890, height: 362 }} />
    </div>
  );
}
